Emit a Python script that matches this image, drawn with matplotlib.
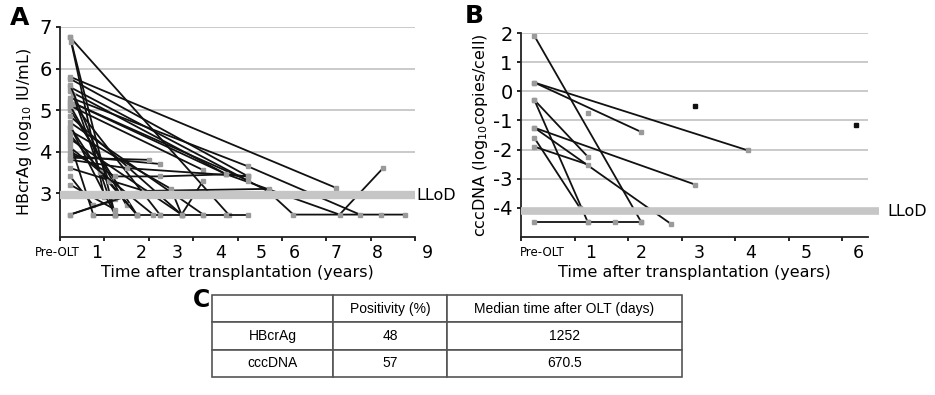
import matplotlib.pyplot as plt
from matplotlib.transforms import blended_transform_factory

plt.rcParams['font.family'] = ['DejaVu Sans']

# Panel A: HBcrAg per patient (x in axis tick units, Pre-OLT ~0.23)
hbcrag_t = [
    [0.23, 3.8], [0.23, 1.24], [0.25, 1.0], [0.23, 6.23],
    [0.23, 4.69, 5.26, 7.24, 7.77], [0.23, 4.24, 6.76], [0.23, 3.75, 6.3, 7.28],
    [0.23, 4.24], [0.23, 3.75], [0.23, 4.24], [0.23, 3.23],
    [0.23, 1.73], [0.3, 2.25], [0.3, 1.24], [0.23, 2.74], [0.23, 3.23],
    [0.23, 1.24], [0.23, 1.73], [0.23, 0.75], [0.23, 2.25], [0.23, 1.5, 4.24],
    [0.23, 0.75], [0.23, 1.24], [0.23, 1.73], [0.23, 1.24],
    [0.23, 1.24, 2.25, 3.75, 4.24], [0.23, 2.0], [0.23, 1.9, 4.7],
    [0.23, 2.74, 3.23], [0.23, 2.5, 2.74],
    [0.75, 1.24, 1.73, 2.25, 2.74, 3.23, 3.75, 4.24],
    [0.23, 1.5], [0.23, 0.9, 1.73], [0.23, 1.1], [0.23, 2.1],
]
hbcrag_v = [
    [6.75, 2.48], [6.75, 2.48], [6.65, 2.9], [5.8, 3.12],
    [5.55, 3.04, 2.48, 2.48, 2.48], [5.3, 3.64, 2.48], [5.2, 3.45, 2.48, 3.6],
    [5.75, 3.4], [5.45, 3.45], [5.2, 3.3], [5.1, 3.55],
    [5.0, 2.48], [5.15, 2.48], [5.35, 2.48], [4.85, 2.48], [4.7, 2.48],
    [4.6, 2.48], [4.4, 2.48], [4.2, 2.48], [3.9, 3.7], [3.8, 3.6, 3.4],
    [3.4, 2.7], [2.48, 2.85], [2.48, 3.0], [3.2, 2.6],
    [4.0, 3.4, 3.4, 3.45, 3.4], [3.85, 3.8], [3.6, 3.05, 3.1],
    [4.3, 2.48, 3.3], [4.5, 3.1, 2.48],
    [2.48, 2.48, 2.48, 2.48, 2.48, 2.48, 2.48, 2.48],
    [5.1, 2.7], [4.6, 3.5, 2.48], [5.6, 3.3], [4.1, 2.48],
]
hbcrag_lod = 2.95
a_ticklabels = ['Pre-OLT', '1', '2', '3', '4', '5', '6', '7', '8', '9']
a_ticklabel_pos = [-0.07, 0.83, 1.82, 2.63, 3.63, 4.53, 5.29, 6.22, 7.16, 8.27]

# Panel B: cccDNA per patient
ccc_t = [
    [0.25, 2.25], [0.25, 2.25], [0.25, 4.24], [0.25, 1.25], [0.25, 1.25],
    [0.25, 3.25], [0.25, 2.8], [0.25, 1.1], [0.25, 1.26],
    [0.25, 1.25, 1.75, 2.25],
]
ccc_v = [
    [1.9, -4.5], [0.3, -1.4], [0.3, -2.03], [-0.3, -2.25], [-0.3, -4.5],
    [-1.25, -3.2], [-1.25, -4.55], [-1.6, -4.0], [-1.9, -2.52],
    [-4.5, -4.5, -4.5, -4.5],
]
ccc_single_gray = ([1.26], [-0.75])
ccc_single_black = ([3.25, 6.25], [-0.5, -1.15])
ccc_lod = -4.12
b_ticklabels = ['Pre-OLT', '1', '2', '3', '4', '5', '6']
b_ticklabel_pos = [0.39, 1.30, 2.25, 3.33, 4.29, 5.33, 6.30]

# Panel C table
table_cols = ['', 'Positivity (%)', 'Median time after OLT (days)']
table_rows = [['HBcrAg', '48', '1252'], ['cccDNA', '57', '670.5']]

GRID = '#c6c6c6'
MARK = '#9a9a9a'

fig = plt.figure(figsize=(9.35, 3.95), dpi=100)


def style_axes(ax, yticks, labels, label_pos, xmax):
    for s in ['top', 'right']:
        ax.spines[s].set_visible(False)
    for s in ['left', 'bottom']:
        ax.spines[s].set_linewidth(1.3)
        ax.spines[s].set_color('#222222')
    ax.set_yticks(yticks)
    ax.set_yticklabels([str(v) for v in yticks])
    ax.tick_params(axis='y', length=3, width=1.2, labelsize=14, pad=3)
    ax.set_xticks(range(0, int(xmax) + 1))
    ax.set_xticklabels([])
    ax.tick_params(axis='x', length=3, width=1.2)
    trans = blended_transform_factory(ax.transData, fig.transFigure)
    for lab, pos in zip(labels, label_pos):
        ax.text(pos, 1 - 253 / 395, lab, transform=trans, ha='center', va='center',
                fontsize=8.5 if lab == 'Pre-OLT' else 12.5, clip_on=False)
    ax.text(0.5, 1 - 272 / 395, 'Time after transplantation (years)',
            transform=blended_transform_factory(ax.transAxes, fig.transFigure),
            ha='center', va='center', fontsize=11.5)


# ---- A ----
axA = fig.add_axes([60 / 935, 1 - 237 / 395, 355 / 935, 210 / 395])
axA.set_xlim(0, 8)
axA.set_ylim(1.94, 7.0)
for g in [4, 5, 6, 7]:
    axA.axhline(g, color=GRID, lw=1.3, zorder=1)
for t, v in zip(hbcrag_t, hbcrag_v):
    axA.plot(t, v, color='#111111', lw=1.3, marker='s', ms=3.2,
             mfc=MARK, mec=MARK, zorder=3)
axA.axhline(hbcrag_lod, color=GRID, lw=6, zorder=4, solid_capstyle='butt')
axA.text(1.005, hbcrag_lod, 'LLoD', transform=blended_transform_factory(axA.transAxes, axA.transData),
         ha='left', va='center', fontsize=11.5)
style_axes(axA, [3, 4, 5, 6, 7], a_ticklabels, a_ticklabel_pos, 8)
axA.set_ylabel('HBcrAg (log$_{10}$ IU/mL)', fontsize=11.5, labelpad=4)
fig.text(10 / 935, 1 - 18 / 395, 'A', fontsize=18, fontweight='bold', va='center')

# ---- B ----
axB = fig.add_axes([521 / 935, 1 - 237 / 395, 347 / 935, 204 / 395])
axB.set_xlim(0, 6.48)
axB.set_ylim(-5, 2)
for g in [-3, -2, -1, 0, 1, 2]:
    axB.axhline(g, color=GRID, lw=1.3, zorder=1)
for t, v in zip(ccc_t, ccc_v):
    axB.plot(t, v, color='#111111', lw=1.3, marker='s', ms=3.2,
             mfc=MARK, mec=MARK, zorder=3)
axB.plot(*ccc_single_gray, ls='none', marker='s', ms=3.2, mfc=MARK, mec=MARK, zorder=3)
axB.plot(*ccc_single_black, ls='none', marker='s', ms=3.5, color='#111111', zorder=3)
axB.plot([0, 6.68], [ccc_lod, ccc_lod], color=GRID, lw=5.5, zorder=4,
         solid_capstyle='butt', clip_on=False)
axB.text(1.055, ccc_lod, 'LLoD', transform=blended_transform_factory(axB.transAxes, axB.transData),
         ha='left', va='center', fontsize=11.5)
style_axes(axB, [-4, -3, -2, -1, 0, 1, 2], b_ticklabels, b_ticklabel_pos, 6)
axB.set_ylabel('cccDNA (log$_{10}$copies/cell)', fontsize=11.5, labelpad=2)
fig.text(465 / 935, 1 - 16 / 395, 'B', fontsize=18, fontweight='bold', va='center')

# ---- C ----
axC = fig.add_axes([212 / 935, 1 - 377 / 395, 470 / 935, 82 / 395])
axC.axis('off')
tbl = axC.table(cellText=table_rows, colLabels=table_cols, cellLoc='center',
                colWidths=[121, 114, 235], bbox=[0, 0, 1, 1])
tbl.auto_set_font_size(False)
for (r, c), cell in tbl.get_celld().items():
    cell.set_edgecolor('#555555')
    cell.set_linewidth(1.2)
    cell.get_text().set_fontsize(10)
    cell.get_text().set_family('Liberation Sans')
fig.text(193 / 935, 1 - 300 / 395, 'C', fontsize=17, fontweight='bold', va='center')

fig.savefig('out.png', dpi=100)
